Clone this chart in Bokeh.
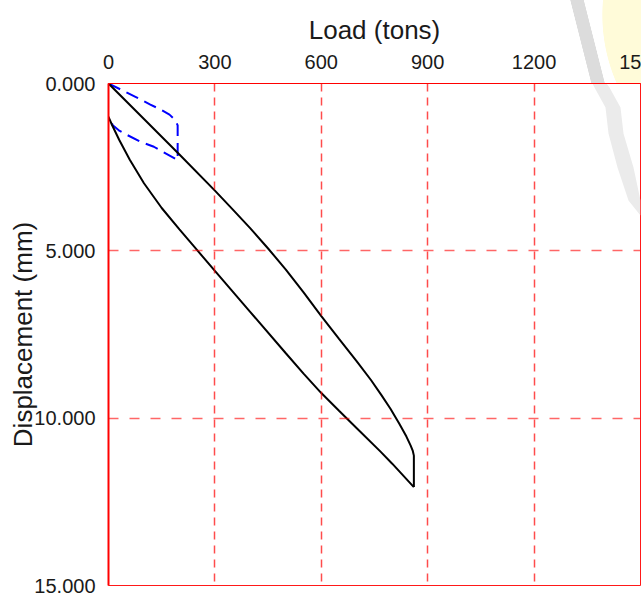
import numpy as np
from bokeh.plotting import figure
from bokeh.models import Range1d, FixedTicker, PrintfTickFormatter, PolyAnnotation, InlineStyleSheet
from bokeh.embed import file_html
from bokeh.resources import INLINE

# ---- data ----
x_ticks = [0, 300, 600, 900, 1200, 1500]
y_ticks = [0, 5, 10, 15]

# first cycle (blue dashed)
cycle1_load = [0, 48, 76, 118, 151, 172, 189, 195, 195, 128, 90, 53, 29, 12, 6, 0]
cycle1_disp = [0, 0.25, 0.40, 0.63, 0.80, 0.93, 1.10, 1.25, 2.29, 1.89, 1.74, 1.54, 1.40, 1.25, 1.10, 1.0]

# second cycle, loading branch (black)
load_up = [0, 100, 200, 300, 350, 400, 450, 500, 550, 600, 650, 700, 740, 770, 795, 820, 840, 852, 858, 861, 861]
disp_up = [0, 1.06, 2.12, 3.2, 3.76, 4.33, 4.93, 5.56, 6.24, 6.95, 7.63, 8.3, 8.86, 9.32, 9.72, 10.17, 10.55, 10.82, 10.98, 11.12, 12.06]

# second cycle, unloading branch (black)
load_down = [861, 800, 767, 700, 650, 600, 550, 500, 400, 300, 250, 200, 150, 100, 60, 30, 10, 0]
disp_down = [12.06, 11.36, 11.0, 10.3, 9.78, 9.25, 8.67, 8.06, 6.83, 5.6, 4.98, 4.36, 3.72, 2.98, 2.28, 1.68, 1.24, 1.0]

FONT = "Liberation Sans"

p = figure(width=641, height=600,
           x_range=Range1d(0, 1500), y_range=Range1d(15, 0),
           x_axis_location="above",
           output_backend="svg", toolbar_location=None,
           min_border_left=108, min_border_right=1,
           min_border_top=83, min_border_bottom=15)

# faint logo watermark in the top-right corner: outside the frame as a CSS background
css = """
:host {
  background-color: white;
  background-image:
    linear-gradient(75.8deg, rgba(220,220,220,0) 572.9px, #dcdcdc 573.5px, #dcdcdc 586px, rgba(220,220,220,0) 586.6px),
    radial-gradient(circle 170px at 772px 15px, #fffbd9 169.3px, rgba(255,251,217,0) 170px);
  background-size: 641px 83px, 641px 600px;
  background-position: 0 0, 0 0;
  background-repeat: no-repeat, no-repeat;
}
"""
p.stylesheets = [InlineStyleSheet(css=css)]


# inside the frame, the fainter continuation of the grey band (canvas pixels)
def band(ys, left, right):
    return list(left) + list(right[::-1]), list(ys) + list(ys[::-1])


gy_in = np.array([83, 87, 107, 133, 167, 200, 215])
gl_in = np.array([592, 594, 605, 608, 617, 628, 640])
gr_in = np.array([606, 609, 620, 623, 633, 640, 640])
xs, ys = band(gy_in, gl_in, gr_in)
p.add_layout(PolyAnnotation(xs=xs, ys=ys, xs_units="canvas", ys_units="canvas",
                            fill_color="#ebebeb", fill_alpha=1.0, line_alpha=0, level="underlay"))

p.line(cycle1_load, cycle1_disp, line_color="blue", line_width=2, line_dash="13 7")
p.line(load_up, disp_up, line_color="black", line_width=2)
p.line(load_down, disp_down, line_color="black", line_width=2)

# axes
p.xaxis.ticker = FixedTicker(ticks=x_ticks)
p.xaxis.major_label_overrides = {1500: "15"}
p.yaxis.ticker = FixedTicker(ticks=y_ticks)
p.yaxis.formatter = PrintfTickFormatter(format="%.3f")
p.xaxis.axis_label = "Load (tons)"
p.yaxis.axis_label = "Displacement (mm)"
for ax in (p.xaxis, p.yaxis):
    ax.major_tick_line_color = None
    ax.minor_tick_line_color = None
    ax.axis_line_color = "red"
    ax.major_label_text_font = FONT
    ax.major_label_text_font_size = "20px"
    ax.major_label_text_color = "#1a1a1a"
    ax.axis_label_text_font = FONT
    ax.axis_label_text_font_size = "26px"
    ax.axis_label_text_font_style = "normal"
    ax.axis_label_text_color = "#1a1a1a"
p.xaxis.major_label_standoff = 9
p.xaxis.axis_label_standoff = 7
p.yaxis.major_label_standoff = 7
p.yaxis.axis_label_standoff = -7
p.yaxis.axis_line_width = 2

# grid
p.xgrid.ticker = FixedTicker(ticks=[300, 600, 900, 1200])
p.ygrid.ticker = FixedTicker(ticks=[5, 10])
for g in (p.xgrid, p.ygrid):
    g.grid_line_color = "red"
    g.grid_line_width = 1.5
    g.level = "glyph"
p.xgrid.grid_line_alpha = 0.7
p.ygrid.grid_line_alpha = 0.6
p.xgrid.grid_line_dash = "8 6"
p.ygrid.grid_line_dash = "10 11"

p.outline_line_color = "red"
p.outline_line_width = 1
p.outline_line_alpha = 0.9
p.background_fill_color = "white"
p.border_fill_alpha = 0.0

open("out.html", "w").write(file_html(p, INLINE))
